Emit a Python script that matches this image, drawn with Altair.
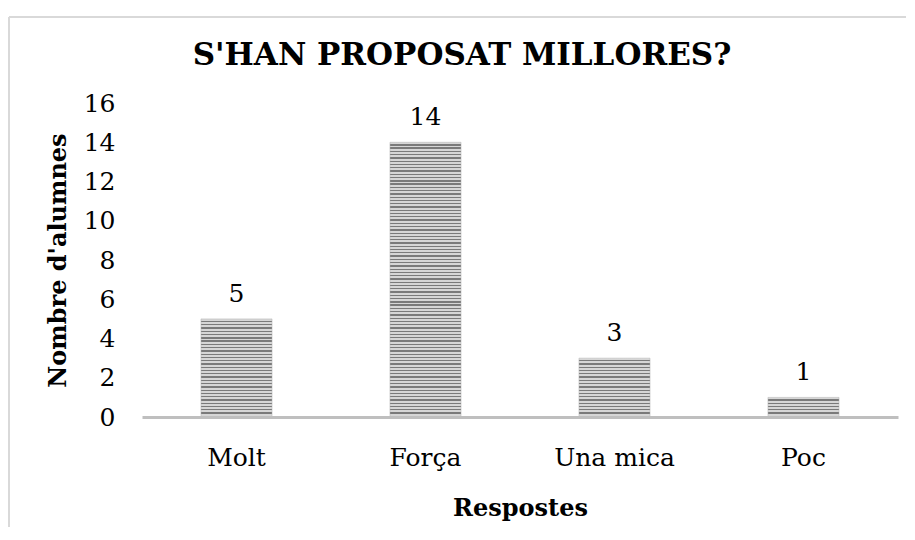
import altair as alt
import pandas as pd

# ---- data ----
categories = ["Molt", "Força", "Una mica", "Poc"]
values = [5, 14, 3, 1]
y_ticks = [0, 2, 4, 6, 8, 10, 12, 14, 16]

title_text = "S'HAN PROPOSAT MILLORES?"
x_title = "Respostes"
y_title = "Nombre d'alumnes"

df = pd.DataFrame({"cat": categories, "val": values})

FONT = "DejaVu Serif"
W, H = 756, 314
STRIPES_PER_UNIT = 6
LIGHT = "#d6d6d6"
DARK = "#7a7a7a"


def stripe_fill(v):
    n = max(1, round(v * STRIPES_PER_UNIT))
    stops = []
    for k in range(n):
        a = k / n
        m = (k + 0.6) / n
        b = (k + 1) / n
        stops += [
            {"offset": a, "color": LIGHT},
            {"offset": m, "color": LIGHT},
            {"offset": m, "color": DARK},
            {"offset": b, "color": DARK},
        ]
    return {"gradient": "linear", "x1": 0, "x2": 0, "y1": 0, "y2": 1, "stops": stops}


x_enc = alt.X(
    "cat:N",
    sort=categories,
    scale=alt.Scale(domain=categories, paddingInner=0.624, paddingOuter=0.312),
    axis=alt.Axis(
        title=x_title,
        labelAngle=0,
        labelFont=FONT,
        labelFontSize=25,
        labelColor="#000000",
        labelBaseline="alphabetic",
        labelPadding=48,
        labelOverlap=False,
        ticks=False,
        grid=False,
        domainColor="#bfbfbf",
        domainWidth=3,
        titleFont=FONT,
        titleFontSize=24,
        titleFontWeight="bold",
        titleColor="#000000",
        titleBaseline="alphabetic",
        titleY=98,
        zindex=1,
    ),
)
y_enc = alt.Y(
    "val:Q",
    scale=alt.Scale(domain=[0, 16], nice=False),
    axis=alt.Axis(
        title=y_title,
        values=y_ticks,
        tickCount=9,
        labelOverlap=False,
        labelBound=False,
        domain=False,
        ticks=False,
        grid=False,
        labelFont=FONT,
        labelFontSize=25,
        labelColor="#000000",
        labelPadding=27,
        titleFont=FONT,
        titleFontSize=24,
        titleFontWeight="bold",
        titleColor="#000000",
        titleAngle=270,
        titleAlign="center",
        titleBaseline="middle",
        titleX=-84,
        titleY=H / 2,
    ),
)

base = alt.Chart(df)

layers = []
for c, v in zip(categories, values):
    layers.append(
        base.transform_filter(alt.datum.cat == c)
        .mark_bar(fill=stripe_fill(v), stroke="#b0b0b0", strokeWidth=0.5)
        .encode(x=x_enc, y=y_enc)
    )

labels = base.mark_text(
    dy=-17, baseline="alphabetic", font=FONT, fontSize=25, color="#000000"
).encode(x=x_enc, y=y_enc, text="val:Q")

frame_left = base.mark_rule(color="#d9d9d9", strokeWidth=2).encode(
    x=alt.value(-133), y=alt.value(-86), y2=alt.value(H + 200)
)
frame_top = base.mark_rule(color="#d9d9d9", strokeWidth=2).encode(
    x=alt.value(-133), x2=alt.value(W + 100), y=alt.value(-86)
)

chart = (
    alt.layer(frame_left, frame_top, *layers, labels)
    .properties(
        width=W,
        height=H,
        title=alt.Title(
            title_text,
            font=FONT,
            fontSize=31,
            fontWeight="bold",
            color="#000000",
            anchor="middle",
            baseline="alphabetic",
            offset=0,
            dx=-58,
            dy=80,
        ),
        autosize=alt.AutoSizeParams(type="none"),
        padding={"left": 134, "top": 95, "right": 8, "bottom": 110},
        background="#ffffff",
    )
    .configure_view(stroke=None)
)

chart.save("out.html", embed_options={"renderer": "svg", "actions": False})
